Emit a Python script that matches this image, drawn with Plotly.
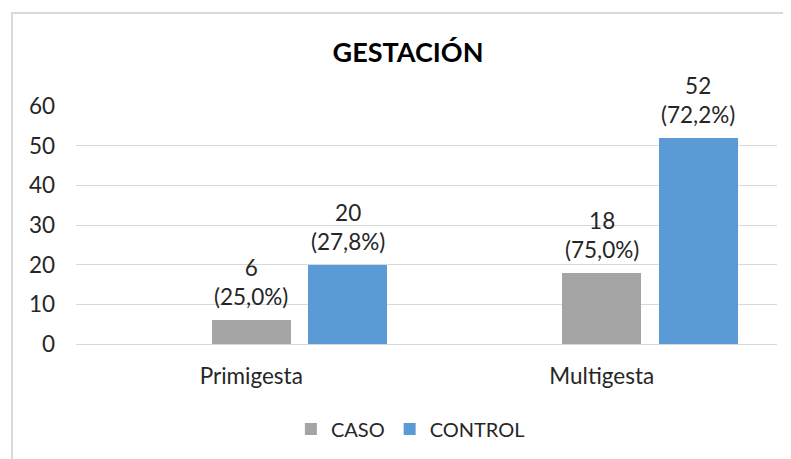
import plotly.graph_objects as go

categories = ["Primigesta", "Multigesta"]
caso = [6, 18]
caso_pct = ["25,0%", "75,0%"]
control = [20, 52]
control_pct = ["27,8%", "72,2%"]
y_ticks = [0, 10, 20, 30, 40, 50, 60]

FONT = "Lato, Open Sans, sans-serif"
TXT = "#262626"
FS = 22.5
BAR_W = 0.225
series = [
    ("CASO", caso, caso_pct, "#A5A5A5", -0.1125),
    ("CONTROL", control, control_pct, "#5B9BD5", 0.1625),
]

# the page puts the figure 8px in from the corner, so the figure is a bit smaller
W, H = 783, 451

fig = go.Figure()
for name, vals, pcts, color, off in series:
    fig.add_trace(
        go.Bar(
            x=categories,
            y=vals,
            name=name,
            marker=dict(color=color, line=dict(width=0)),
            width=BAR_W,
            offset=off,
        )
    )
    # data labels, a little higher above the bar than plotly's outside text
    for i, (v, p) in enumerate(zip(vals, pcts)):
        fig.add_annotation(
            x=i + off + BAR_W / 2,
            y=v,
            xref="x",
            yref="y",
            text=f"{v}<br>({p})",
            showarrow=False,
            yanchor="bottom",
            yshift=8,
            font=dict(size=FS, color=TXT, family=FONT),
        )

# chart frame (partly cut off in the original)
fig.add_shape(
    type="rect", xref="paper", yref="paper",
    x0=-0.0913, x1=1.2, y0=-1.0, y1=1.391,
    line=dict(color="#D9D9D9", width=2), layer="below",
)

fig.update_layout(
    width=W,
    height=H,
    margin=dict(l=68, r=14, t=98, b=115, autoexpand=False),
    paper_bgcolor="white",
    plot_bgcolor="white",
    font=dict(family=FONT, size=FS, color=TXT),
    title=dict(
        text="<b>GESTACIÓN</b>",
        x=400 / W,
        xanchor="center",
        y=1 - 45 / H,
        yanchor="middle",
        font=dict(size=27, color="#000000", family=FONT),
    ),
    bargap=0,
    showlegend=True,
    legend=dict(
        orientation="h",
        x=0.477,
        xanchor="center",
        y=-0.357,
        yanchor="middle",
        font=dict(size=20, color=TXT),
        itemwidth=30,
        traceorder="normal",
    ),
    xaxis=dict(
        automargin=False,
        showgrid=False,
        showline=True,
        linecolor="#D9D9D9",
        linewidth=1,
        ticks="",
        ticklabelstandoff=12,
        tickfont=dict(size=FS, color=TXT),
    ),
    yaxis=dict(
        automargin=False,
        range=[0, 60],
        tickvals=y_ticks,
        showgrid=True,
        gridcolor="#D9D9D9",
        gridwidth=1,
        zeroline=False,
        showline=False,
        ticks="",
        ticklabelstandoff=20,
        tickfont=dict(size=FS, color=TXT),
    ),
)

fig.write_html("out.html")
